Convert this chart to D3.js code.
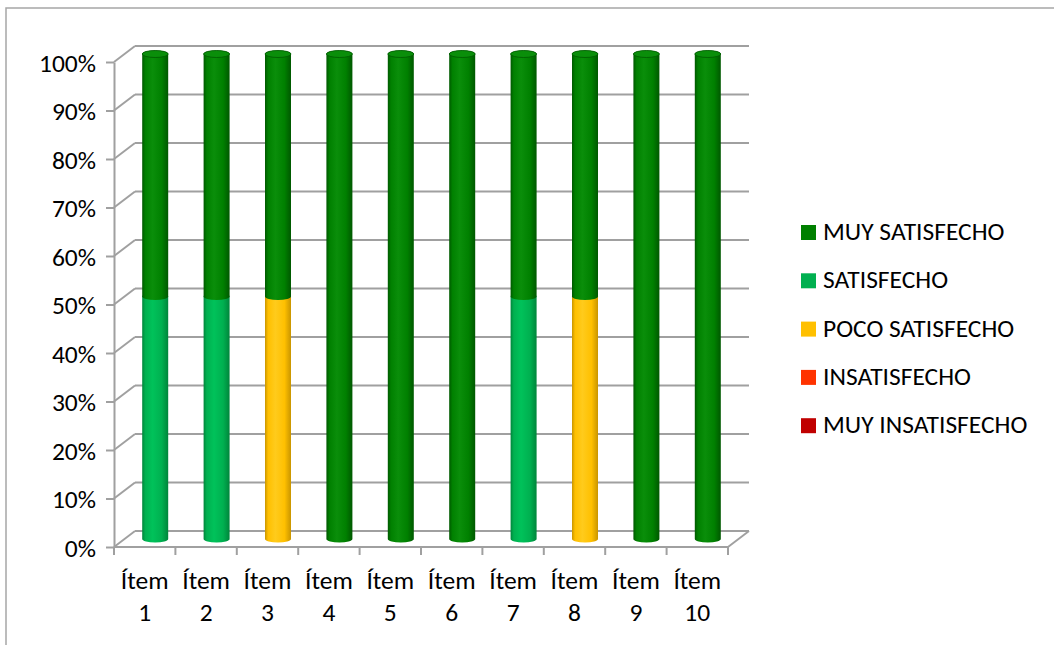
<!DOCTYPE html>
<html>
<head>
<meta charset="utf-8">
<script src="https://cdn.jsdelivr.net/npm/d3@7"></script>
<style>
  html, body { margin: 0; padding: 0; background: #fff; }
  svg { display: block; }
  text { font-family: Carlito, Lato, "Liberation Sans", sans-serif; fill: #000; }
</style>
</head>
<body>
<svg id="chart" width="1054" height="645"></svg>
<script>
// Survey answers per item, share of responses (stacked to 100%)
const categories = ["Ítem 1","Ítem 2","Ítem 3","Ítem 4","Ítem 5","Ítem 6","Ítem 7","Ítem 8","Ítem 9","Ítem 10"];
const muyInsatisfecho = [0, 0, 0, 0, 0, 0, 0, 0, 0, 0];
const insatisfecho    = [0, 0, 0, 0, 0, 0, 0, 0, 0, 0];
const pocoSatisfecho  = [0, 0, 0.5, 0, 0, 0, 0, 0.5, 0, 0];
const satisfecho      = [0.5, 0.5, 0, 0, 0, 0, 0.5, 0, 0, 0];
const muySatisfecho   = [0.5, 0.5, 0.5, 1, 1, 1, 0.5, 0.5, 1, 1];
const yTicks = [0, 0.1, 0.2, 0.3, 0.4, 0.5, 0.6, 0.7, 0.8, 0.9, 1];

// stacking order: bottom to top
const series = [
  { name: "MUY INSATISFECHO", values: muyInsatisfecho, color: "#C00000", edge: "#8a0000", light: "#d81010" },
  { name: "INSATISFECHO",     values: insatisfecho,    color: "#FF3300", edge: "#c02600", light: "#ff4a1a" },
  { name: "POCO SATISFECHO",  values: pocoSatisfecho,  color: "#FFC000", edge: "#c99500", light: "#ffcb1c" },
  { name: "SATISFECHO",       values: satisfecho,      color: "#00B050", edge: "#00853b", light: "#00c25a" },
  { name: "MUY SATISFECHO",   values: muySatisfecho,   color: "#008000", edge: "#005800", light: "#0a8e0a" }
];

const FONT = 25.5;
const svg = d3.select("#chart");

// outer frame
svg.append("path")
  .attr("d", "M6,645 L6,8 L1054,8")
  .attr("fill", "none").attr("stroke", "#a6a6a6").attr("stroke-width", 1.5);

// plot geometry (front plane + depth offset)
const left = 114, right = 728, bottom = 547, plotH = 485;
const dx = 21, dy = -16;

const x = d3.scaleBand().domain(categories).range([left, right]);
const y = d3.scaleLinear().domain([0, 1]).range([bottom, bottom - plotH]);

const grid = svg.append("g").attr("stroke", "#a0a0a0").attr("stroke-width", 2).attr("fill", "none");

// back wall gridlines and side wall diagonals
yTicks.forEach(t => {
  grid.append("line")
    .attr("x1", left + dx).attr("x2", right + dx)
    .attr("y1", y(t) + dy).attr("y2", y(t) + dy);
  grid.append("line")
    .attr("x1", left).attr("y1", y(t))
    .attr("x2", left + dx).attr("y2", y(t) + dy);
});

// floor front edge and right diagonal
grid.append("line").attr("x1", left).attr("x2", right).attr("y1", bottom).attr("y2", bottom);
grid.append("line").attr("x1", right).attr("y1", bottom).attr("x2", right + dx).attr("y2", bottom + dy);

// category ticks under the floor
const bounds = categories.map(c => x(c)).concat([right]);
bounds.forEach(b => {
  grid.append("line").attr("x1", b).attr("x2", b).attr("y1", bottom).attr("y2", bottom + 8);
});

// value axis on the front plane
const yAxis = svg.append("g")
  .attr("transform", `translate(${left},0)`)
  .call(d3.axisLeft(y).tickValues(yTicks).tickFormat(d3.format(".0%")).tickSize(8).tickSizeOuter(0).tickPadding(10));
yAxis.select(".domain").attr("stroke", "#a0a0a0").attr("stroke-width", 2);
yAxis.selectAll(".tick line").attr("stroke", "#a0a0a0").attr("stroke-width", 2);
yAxis.selectAll(".tick text")
  .style("font-family", "Carlito, Lato, 'Liberation Sans', sans-serif")
  .attr("font-size", FONT).attr("fill", "#000").attr("dy", "0.36em");

// category labels on two lines
const catLabels = svg.append("g");
categories.forEach(c => {
  const parts = c.split(" ");
  const t = catLabels.append("text")
    .attr("text-anchor", "middle")
    .attr("font-size", FONT);
  t.append("tspan").attr("x", x(c) + x.bandwidth() / 2).attr("y", 589).text(parts[0]);
  t.append("tspan").attr("x", x(c) + x.bandwidth() / 2).attr("y", 621).text(parts[1]);
});

// gradients for the cylinders
const defs = svg.append("defs");
series.forEach((s, i) => {
  const g = defs.append("linearGradient").attr("id", "cyl" + i)
    .attr("x1", "0").attr("x2", "1").attr("y1", "0").attr("y2", "0");
  g.append("stop").attr("offset", "0").attr("stop-color", s.edge);
  g.append("stop").attr("offset", "0.12").attr("stop-color", s.color);
  g.append("stop").attr("offset", "0.4").attr("stop-color", s.light);
  g.append("stop").attr("offset", "0.75").attr("stop-color", s.color);
  g.append("stop").attr("offset", "1").attr("stop-color", s.edge);
});

// cylinders at mid depth
const barW = 26, rx = barW / 2, ry = 3.5;
const midX = c => x(c) + x.bandwidth() / 2 + dx / 2;
const midY = v => y(v) + dy / 2;

const bars = svg.append("g");
categories.forEach((c, ci) => {
  let acc = 0;
  let topIdx = -1;
  series.forEach((s, si) => {
    const v = s.values[ci];
    if (v <= 0) return;
    const y0 = midY(acc), y1 = midY(acc + v);
    const cx = midX(c), l = cx - rx, r = cx + rx;
    bars.append("path")
      .attr("d", `M${l},${y1} L${l},${y0} A${rx},${ry} 0 0 0 ${r},${y0} L${r},${y1} A${rx},${ry} 0 0 0 ${l},${y1} Z`)
      .attr("fill", `url(#cyl${si})`);
    acc += v;
    topIdx = si;
  });
  if (topIdx >= 0) {
    const s = series[topIdx];
    bars.append("ellipse")
      .attr("cx", midX(c)).attr("cy", midY(acc))
      .attr("rx", rx).attr("ry", ry)
      .attr("fill", s.light).attr("stroke", s.edge).attr("stroke-width", 0.8);
  }
});

// legend, top entry is the top of the stack
const legend = svg.append("g");
series.slice().reverse().forEach((s, i) => {
  const ly = 225 + i * 48.3;
  legend.append("rect").attr("x", 801).attr("y", ly).attr("width", 15).attr("height", 15).attr("fill", s.color);
  legend.append("text").attr("x", 823).attr("y", ly + 15).attr("font-size", FONT).text(s.name);
});
</script>
</body>
</html>
